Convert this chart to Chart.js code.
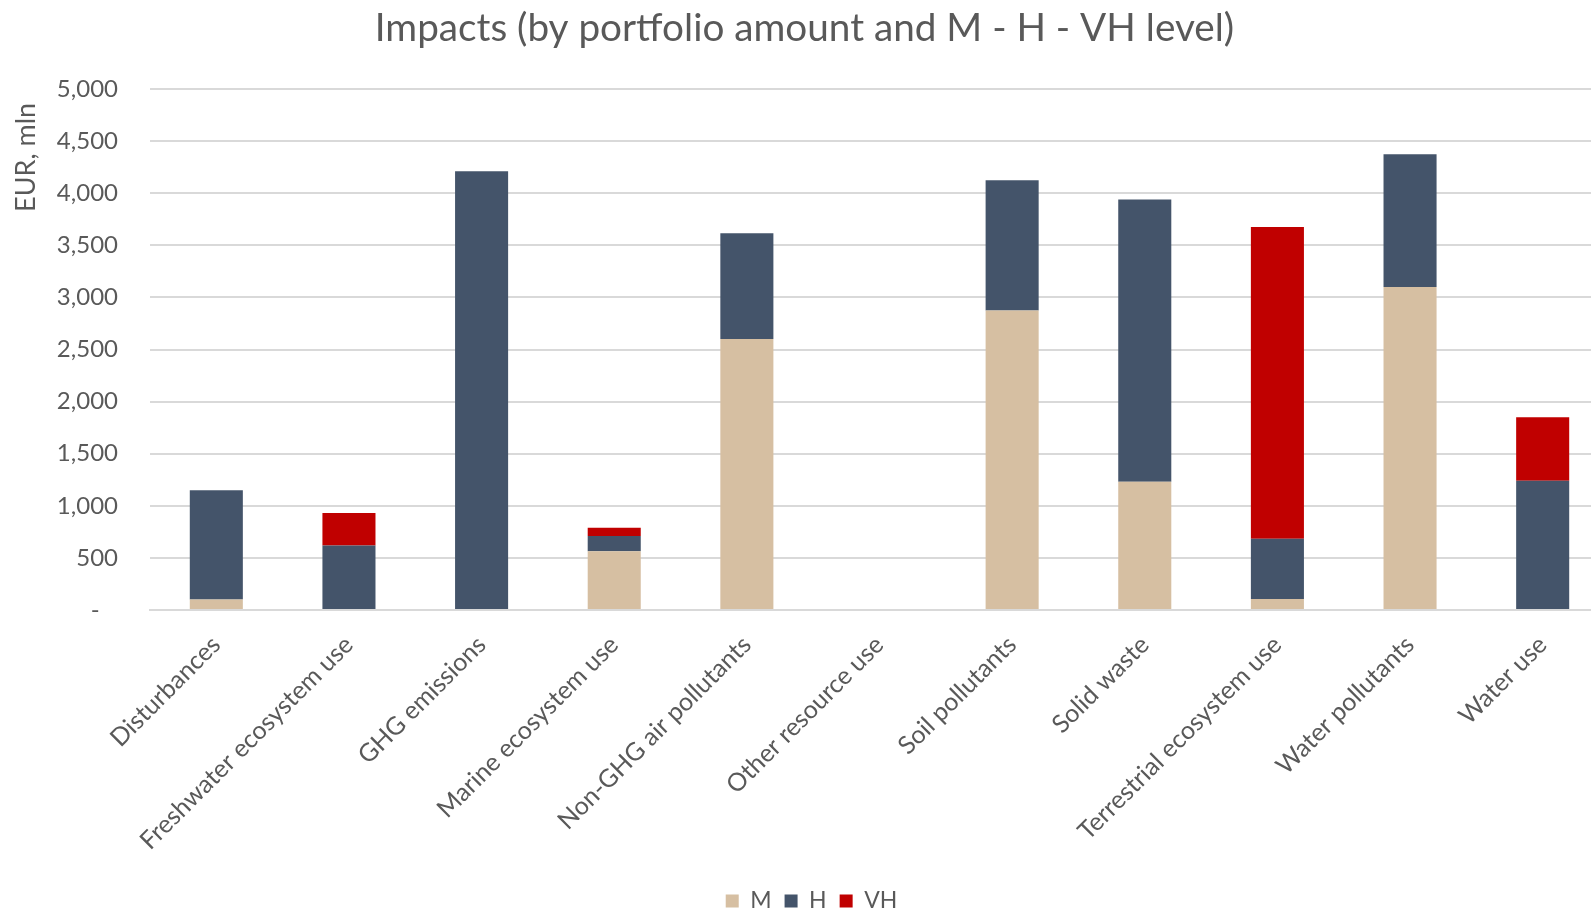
<!DOCTYPE html>
<html>
<head>
<meta charset="utf-8">
<script src="https://cdn.jsdelivr.net/npm/chart.js@4/dist/chart.umd.min.js"></script>
<style>
html,body{margin:0;padding:0;background:#fff;overflow:hidden;}
#wrap{width:1609px;height:914px;position:relative;}
</style>
</head>
<body>
<div id="wrap"><canvas id="c"></canvas></div>
<script>
const categories = ["Disturbances","Freshwater ecosystem use","GHG emissions","Marine ecosystem use","Non-GHG air pollutants","Other resource use","Soil pollutants","Solid waste","Terrestrial ecosystem use","Water pollutants","Water use"];
const seriesM  = [100, 0, 0, 565, 2600, 0, 2875, 1230, 105, 3100, 0];
const seriesH  = [1050, 620, 4210, 145, 1015, 0, 1250, 2710, 580, 1275, 1240];
const seriesVH = [0, 310, 0, 80, 0, 0, 0, 0, 2990, 0, 610];
const yTicks = [0,500,1000,1500,2000,2500,3000,3500,4000,4500,5000];

const FONT = "Lato, 'Open Sans', sans-serif";
const GREY = "#595959";

const shiftLegend = {
  id: 'shiftLegend',
  afterLayout(chart) {
    if (chart.legend) { chart.legend.left += 7; chart.legend.right += 7; }
  }
};

new Chart(document.getElementById('c'), {
  type: 'bar',
  data: {
    labels: categories,
    datasets: [
      {label: 'M',  data: seriesM,  backgroundColor: '#D6BFA2'},
      {label: 'H',  data: seriesH,  backgroundColor: '#44546A'},
      {label: 'VH', data: seriesVH, backgroundColor: '#C00000'}
    ]
  },
  plugins: [shiftLegend],
  options: {
    responsive: true,
    maintainAspectRatio: false,
    animation: false,
    layout: {padding: {left: 0, right: 0, top: 0, bottom: -8.5}},
    datasets: {bar: {categoryPercentage: 1.0, barPercentage: 0.4}},
    plugins: {
      title: {
        display: true,
        text: 'Impacts (by portfolio amount and M - H - VH level)',
        color: GREY,
        font: {family: FONT, size: 38.7, weight: 'normal'},
        padding: {top: 5.6, bottom: 37}
      },
      legend: {
        position: 'bottom',
        labels: {
          color: GREY,
          font: {family: FONT, size: 23},
          boxWidth: 13, boxHeight: 13, padding: 13
        }
      },
      tooltip: {enabled: false}
    },
    scales: {
      x: {
        stacked: true,
        afterFit: (s) => { s.height = 266.5; },
        grid: {display: false, drawTicks: false},
        border: {display: true, color: '#D9D9D9', width: 2},
        ticks: {
          color: GREY,
          font: {family: FONT, size: 25},
          maxRotation: 45, minRotation: 45,
          padding: 20,
          autoSkip: false
        }
      },
      y: {
        stacked: true,
        min: 0, max: 5000,
        afterFit: (s) => { s.width = 150; },
        afterBuildTicks: (s) => { s.ticks = yTicks.map(v => ({value: v})); },
        grid: {color: '#D9D9D9', lineWidth: 2, drawTicks: false},
        border: {display: false},
        ticks: {
          color: GREY,
          font: {family: FONT, size: 24},
          padding: 32,
          callback: (v) => v === 0 ? '-   ' : v.toLocaleString('en-US')
        },
        title: {
          display: true,
          text: 'EUR, mln  ',
          align: 'end',
          color: GREY,
          font: {family: FONT, size: 27},
          padding: {top: 9.8, bottom: 0}
        }
      }
    }
  }
});
</script>
</body>
</html>
